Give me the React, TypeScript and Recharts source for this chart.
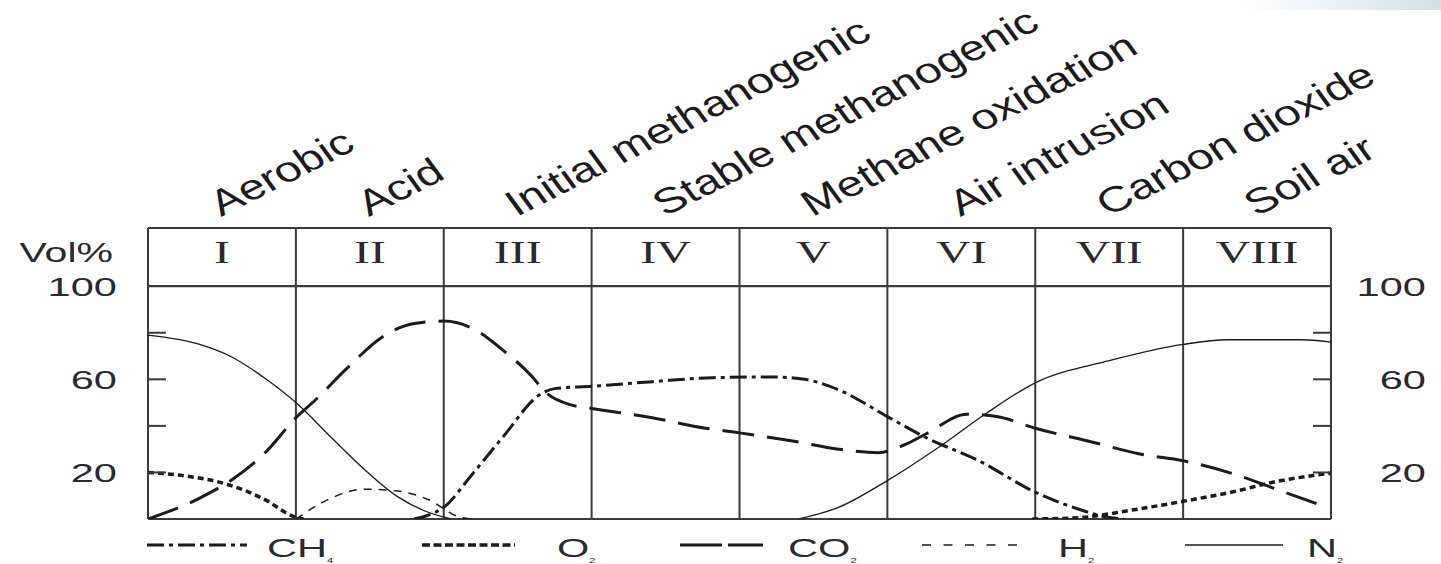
import React from "react";
import { LineChart, Line, XAxis, YAxis, ReferenceLine, Legend } from "recharts";

// phases along the x axis (one unit per phase)
const phaseNumerals = ["I", "II", "III", "IV", "V", "VI", "VII", "VIII"];
const phaseNames = [
  "Aerobic",
  "Acid",
  "Initial methanogenic",
  "Stable methanogenic",
  "Methane oxidation",
  "Air intrusion",
  "Carbon dioxide",
  "Soil air",
];
const phaseCenters = [0.5, 1.5, 2.5, 3.5, 4.5, 5.5, 6.5, 7.5];
const phaseBounds = [0, 1, 2, 3, 4, 5, 6, 7, 8];

const volTicks = [20, 40, 60, 80, 100];
const volLabels = [20, 60, 100];

// [phase position, vol%]; null = line not drawn
type Pt = [number, number | null];

const ch4: Pt[] = [
  [1.8, 0], [1.89, 1.5], [2, 5], [2.19, 19], [2.41, 36], [2.64, 53], [2.75, 56],
  [3, 57], [3.41, 59], [3.82, 60.7], [4.22, 61], [4.44, 60], [4.67, 55.5],
  [5, 44], [5.26, 35], [5.62, 25], [6, 11.5], [6.29, 4.3], [6.5, 0.6], [6.6, 0],
];

const o2: Pt[] = [
  [0, 20], [0.24, 18.6], [0.53, 15], [0.8, 8], [0.97, 1.5], [1.05, 0],
  [3, null],
  [5.98, 0], [6.3, 0.6], [6.63, 3.6], [7, 7.6], [7.36, 12], [7.6, 15.7], [8, 19.7],
];

const co2: Pt[] = [
  [0, 0], [0.35, 9], [0.57, 17], [0.8, 29], [1, 43.5], [1.13, 51], [1.35, 65],
  [1.58, 78], [1.8, 84], [2, 85], [2.19, 82], [2.41, 72], [2.6, 61], [2.68, 55],
  [2.86, 49], [3, 47.5], [3.41, 43.5], [3.77, 39], [4, 37], [4.36, 33.5],
  [4.67, 30], [4.94, 28.5], [5.12, 32], [5.26, 36.5], [5.54, 45], [5.74, 44],
  [6, 39], [6.39, 33], [6.7, 28], [7, 25], [7.36, 19], [7.6, 13.5], [7.95, 5.5],
];

const h2: Pt[] = [
  [1, 0], [1.24, 9], [1.46, 12.8], [1.69, 12], [1.89, 8.5], [2.1, 1], [2.18, 0],
];

const n2: Pt[] = [
  [0, 79], [0.35, 75], [0.57, 69.5], [0.8, 60], [1, 50], [1.24, 35], [1.46, 21.5],
  [1.69, 9.5], [1.89, 3], [2.05, 0],
  [3, null],
  [4.4, 0], [4.67, 5], [5, 16.5], [5.34, 30.5], [5.66, 45], [6, 58.5], [6.5, 68],
  [7, 75], [7.3, 77], [7.8, 77], [8, 76],
];

const toPoints = (pts: Pt[]) => pts.map(([x, v]) => ({ x, v }));

const INK = "#1b1b1b";
const FRAME = "#3a3a3a";
const SANS = "'Liberation Sans', Arial, sans-serif";
const SERIF = "'Liberation Serif', 'Times New Roman', serif";

const series = [
  { key: "ch4", name: "CH", sub: "4", pts: ch4, width: 3, dash: "17 5 4 5", legendDash: "17 5 4 5", lx: 147, lw: 100, tx: 267 },
  { key: "o2", name: "O", sub: "2", pts: o2, width: 3.5, dash: "6 4", legendDash: "8 3.5", lx: 422, lw: 93, tx: 557 },
  { key: "co2", name: "CO", sub: "2", pts: co2, width: 3, dash: "32 13", legendDash: "42 6", lx: 680, lw: 83, tx: 788 },
  { key: "h2", name: "H", sub: "2", pts: h2, width: 1.5, dash: "8 7", legendDash: "9 12.5", lx: 922, lw: 96, tx: 1058 },
  { key: "n2", name: "N", sub: "2", pts: n2, width: 1.3, dash: undefined, legendDash: undefined, lx: 1185, lw: 98, tx: 1307 },
];

// eslint-disable-next-line @typescript-eslint/no-explicit-any
const PhaseTick = ({ x, y, payload, index }: any) => {
  const i = index ?? phaseCenters.indexOf(payload.value);
  return (
    <g>
      <text
        transform={`translate(${x},${y + 35}) scale(1.55,1)`}
        textAnchor="middle"
        fontFamily={SERIF}
        fontSize={31}
        fill="#2a2a2a"
      >
        {phaseNumerals[i]}
      </text>
      <text
        transform={`translate(${x + 1},${y - 12}) scale(1.5,1) rotate(-37)`}
        fontFamily={SANS}
        fontStyle="italic"
        fontSize={33.5}
        fill={INK}
      >
        {phaseNames[i]}
      </text>
    </g>
  );
};

// eslint-disable-next-line @typescript-eslint/no-explicit-any
const VolTick = ({ x, y, payload, side }: any) => {
  const v = payload.value;
  const dir = side === "left" ? 1 : -1;
  const labelX = side === "left" ? x - 31 : x + 95;
  return (
    <g>
      {v < 100 && (
        <line x1={x} x2={x + dir * 18} y1={y} y2={y} stroke={FRAME} strokeWidth={2} />
      )}
      {volLabels.includes(v) && (
        <text
          transform={`translate(${labelX},${y}) scale(1.6,1)`}
          textAnchor="end"
          dy="0.36em"
          fontFamily={SANS}
          fontSize={26}
          fill="#2a2a2a"
        >
          {v}
        </text>
      )}
      {side === "left" && v === 100 && (
        <text
          transform={`translate(${x - 35},${y - 24}) scale(1.52,1)`}
          textAnchor="end"
          fontFamily={SANS}
          fontSize={27}
          fill="#2a2a2a"
        >
          Vol%
        </text>
      )}
    </g>
  );
};

const GasLegend = () => (
  <svg width={1441} height={39} style={{ display: "block" }}>
    {series.map((s) => (
      <g key={s.key}>
        <line
          x1={s.lx}
          x2={s.lx + s.lw}
          y1={20}
          y2={20}
          stroke={INK}
          strokeWidth={s.width}
          strokeDasharray={s.legendDash}
        />
        <text
          transform={`translate(${s.tx},32) scale(1.6,1)`}
          fontFamily={SANS}
          fontSize={26}
          fill="#2a2a2a"
        >
          {s.name}
          <tspan fontSize={7} dy={6}>{s.sub}</tspan>
        </text>
      </g>
    ))}
  </svg>
);

export default function App() {
  return (
    <div style={{ position: "absolute", left: 0, top: 0, width: 1441, height: 564, background: "#fff" }}>
      <div
        style={{
          position: "absolute",
          right: 0,
          top: 0,
          width: 200,
          height: 10,
          background: "linear-gradient(to right, rgba(210,222,232,0), rgba(200,214,228,0.8))",
        }}
      />
      <LineChart
        width={1441}
        height={564}
        margin={{ top: 0, right: 0, bottom: 45, left: 0 }}
        style={{ position: "absolute", left: 0, top: 0 }}
      >
        <XAxis
          dataKey="x"
          type="number"
          domain={[0, 8]}
          orientation="top"
          ticks={phaseCenters}
          interval={0}
          height={228}
          axisLine={false}
          tickLine={false}
          tickSize={0}
          tickMargin={0}
          tick={<PhaseTick />}
          allowDataOverflow
        />
        <YAxis
          yAxisId="left"
          orientation="left"
          width={148}
          domain={[0, 125]}
          ticks={volTicks}
          interval={0}
          axisLine={false}
          tickLine={false}
          tickSize={0}
          tickMargin={0}
          tick={<VolTick side="left" />}
          allowDataOverflow
        />
        <YAxis
          yAxisId="right"
          orientation="right"
          width={110}
          domain={[0, 125]}
          ticks={volTicks}
          interval={0}
          axisLine={false}
          tickLine={false}
          tickSize={0}
          tickMargin={0}
          tick={<VolTick side="right" />}
          allowDataOverflow
        />

        {phaseBounds.map((b) => (
          <ReferenceLine key={`b${b}`} x={b} yAxisId="left" stroke={FRAME} strokeWidth={2} />
        ))}
        {[0, 100, 125].map((h) => (
          <ReferenceLine key={`h${h}`} y={h} yAxisId="left" stroke={FRAME} strokeWidth={2.2} />
        ))}

        {series.map((s) => (
          <Line
            key={s.key}
            yAxisId="left"
            data={toPoints(s.pts)}
            dataKey="v"
            type="monotone"
            stroke={INK}
            strokeWidth={s.width}
            strokeDasharray={s.dash}
            dot={false}
            activeDot={false}
            connectNulls={false}
            isAnimationActive={false}
          />
        ))}

        <Legend
          layout="horizontal"
          verticalAlign="middle"
          align="center"
          content={<GasLegend />}
          wrapperStyle={{ position: "absolute", top: 525, left: 0, width: 1441, height: 39 }}
        />
      </LineChart>
    </div>
  );
}
